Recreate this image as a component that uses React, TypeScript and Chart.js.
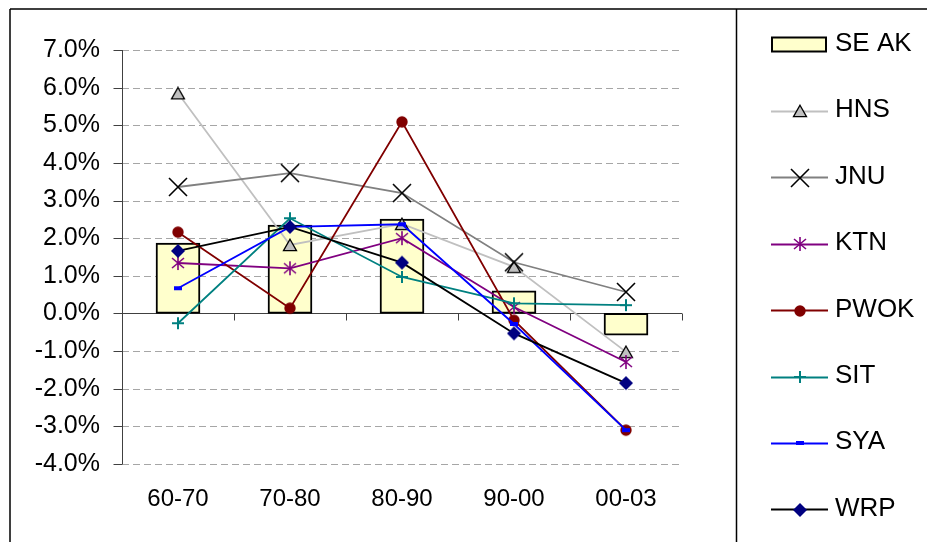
import { useEffect, useRef } from 'react';
import { Chart, registerables } from 'chart.js';

Chart.register(...registerables);

const categories = ['60-70', '70-80', '80-90', '90-00', '00-03'];
const seAk = [1.87, 2.35, 2.51, 0.6, -0.58];
const hns = [5.85, 1.82, 2.38, 1.24, -1.02];
const jnu = [3.36, 3.73, 3.2, 1.36, 0.57];
const ktn = [1.34, 1.2, 2.0, 0.17, -1.29];
const pwok = [2.16, 0.14, 5.09, -0.18, -3.1];
const sit = [-0.26, 2.53, 0.97, 0.27, 0.22];
const sya = [0.67, 2.3, 2.37, -0.28, -3.1];
const wrp = [1.66, 2.3, 1.35, -0.53, -1.85];
const yMin = -4;
const yMax = 7;
const yStep = 1;

const FONT = "'Liberation Sans', Arial, sans-serif";

function makeCanvas(w: number, h: number, draw: (g: CanvasRenderingContext2D) => void) {
  const c = document.createElement('canvas');
  c.width = w;
  c.height = h;
  const g = c.getContext('2d')!;
  draw(g);
  return c;
}

function buildMarkers() {
  const triangle = makeCanvas(16, 14, (g) => {
    g.beginPath();
    g.moveTo(8, 1.2);
    g.lineTo(14.5, 12.6);
    g.lineTo(1.5, 12.6);
    g.closePath();
    g.fillStyle = '#C0C0C0';
    g.fill();
    g.strokeStyle = '#000';
    g.lineWidth = 1.3;
    g.stroke();
  });
  const xMark = makeCanvas(22, 22, (g) => {
    g.strokeStyle = '#000';
    g.lineWidth = 1.6;
    g.beginPath();
    g.moveTo(2, 2);
    g.lineTo(20, 20);
    g.moveTo(20, 2);
    g.lineTo(2, 20);
    g.stroke();
  });
  const star = makeCanvas(16, 16, (g) => {
    g.strokeStyle = '#800080';
    g.lineWidth = 1.6;
    g.beginPath();
    g.moveTo(2, 3);
    g.lineTo(14, 13);
    g.moveTo(14, 3);
    g.lineTo(2, 13);
    g.moveTo(8, 1);
    g.lineTo(8, 15);
    g.stroke();
  });
  const circle = makeCanvas(14, 14, (g) => {
    g.beginPath();
    g.arc(7, 7, 5.7, 0, Math.PI * 2);
    g.fillStyle = '#800000';
    g.fill();
  });
  const plus = makeCanvas(16, 16, (g) => {
    g.strokeStyle = '#008080';
    g.lineWidth = 2;
    g.beginPath();
    g.moveTo(2, 8);
    g.lineTo(14, 8);
    g.moveTo(8, 2);
    g.lineTo(8, 14);
    g.stroke();
  });
  const dash = makeCanvas(10, 6, (g) => {
    g.fillStyle = '#0000FF';
    g.fillRect(1, 1, 8, 4);
  });
  const diamond = makeCanvas(16, 16, (g) => {
    g.beginPath();
    g.moveTo(8, 1);
    g.lineTo(15, 8);
    g.lineTo(8, 15);
    g.lineTo(1, 8);
    g.closePath();
    g.fillStyle = '#000080';
    g.fill();
  });
  return { triangle, xMark, star, circle, plus, dash, diamond };
}

export default function App() {
  const ref = useRef<HTMLCanvasElement | null>(null);

  useEffect(() => {
    if (!ref.current) return;
    const m = buildMarkers();

    const lineDs = (label: string, data: number[], color: string, marker: HTMLCanvasElement, order: number) => ({
      type: 'line' as const,
      label,
      data,
      borderColor: color,
      backgroundColor: color,
      borderWidth: 1.8,
      pointStyle: marker,
      pointRadius: 5,
      pointHoverRadius: 5,
      tension: 0,
      fill: false,
      order,
      legendMarker: marker,
    });

    const legendPlugin = {
      id: 'frameAndLegend',
      beforeDatasetsDraw(chart: any) {
        const { ctx, chartArea: a, scales } = chart;
        const y = scales.y;
        ctx.save();
        // dashed gridlines
        ctx.strokeStyle = '#a6a6a6';
        ctx.lineWidth = 1;
        ctx.setLineDash([7, 4]);
        y.ticks.forEach((t: any) => {
          if (t.value === 0) return;
          const py = Math.round(y.getPixelForValue(t.value)) + 0.5;
          ctx.beginPath();
          ctx.moveTo(a.left, py);
          ctx.lineTo(a.right, py);
          ctx.stroke();
        });
        ctx.setLineDash([]);
        // y axis
        ctx.strokeStyle = '#404040';
        const ax = Math.round(a.left) + 0.5;
        ctx.beginPath();
        ctx.moveTo(ax, a.top);
        ctx.lineTo(ax, a.bottom);
        ctx.stroke();
        y.ticks.forEach((t: any) => {
          const py = Math.round(y.getPixelForValue(t.value)) + 0.5;
          ctx.beginPath();
          ctx.moveTo(ax - 9, py);
          ctx.lineTo(ax, py);
          ctx.stroke();
        });
        // x axis at zero
        const zy = Math.round(y.getPixelForValue(0)) + 0.5;
        ctx.beginPath();
        ctx.moveTo(a.left, zy);
        ctx.lineTo(a.right, zy);
        ctx.stroke();
        const n = categories.length;
        const cw = (a.right - a.left) / n;
        for (let i = 0; i <= n; i++) {
          const px = Math.round(a.left + i * cw) + 0.5;
          ctx.beginPath();
          ctx.moveTo(px, zy);
          ctx.lineTo(px, zy + 7);
          ctx.stroke();
        }
        ctx.restore();
      },
      afterDraw(chart: any) {
        const { ctx } = chart;
        ctx.save();
        // frame
        ctx.strokeStyle = '#000';
        ctx.lineWidth = 1.5;
        ctx.beginPath();
        ctx.moveTo(10, 9);
        ctx.lineTo(927, 9);
        ctx.moveTo(10, 9);
        ctx.lineTo(10, 542);
        ctx.moveTo(736.5, 9);
        ctx.lineTo(736.5, 542);
        ctx.stroke();
        // legend
        const ds = chart.data.datasets;
        const y0 = 44.5;
        const step = 66.4;
        ctx.font = `26px ${FONT}`;
        ctx.textBaseline = 'alphabetic';
        ctx.textAlign = 'left';
        ds.forEach((d: any, i: number) => {
          const cy = y0 + i * step;
          if (d.type === 'line') {
            ctx.strokeStyle = d.borderColor;
            ctx.lineWidth = 2;
            ctx.beginPath();
            ctx.moveTo(771, Math.round(cy) + 0.5);
            ctx.lineTo(828, Math.round(cy) + 0.5);
            ctx.stroke();
            const mk = d.legendMarker as HTMLCanvasElement;
            ctx.drawImage(mk, Math.round(799.5 - mk.width / 2), Math.round(cy + 0.5 - mk.height / 2));
          } else {
            ctx.fillStyle = d.backgroundColor;
            ctx.fillRect(772, cy - 7, 54, 14);
            ctx.strokeStyle = '#000';
            ctx.lineWidth = 2;
            ctx.strokeRect(772, cy - 7, 54, 14);
          }
          ctx.fillStyle = '#000';
          ctx.fillText(d.label, 835, cy + 6.5);
        });
        ctx.restore();
      },
    };

    const chart = new Chart(ref.current, {
      type: 'bar',
      data: {
        labels: categories,
        datasets: [
          {
            type: 'bar',
            label: 'SE AK',
            data: seAk,
            backgroundColor: '#FFFFCC',
            borderColor: '#000',
            borderWidth: 2,
            borderSkipped: false,
            barThickness: 44,
            order: 10,
          } as any,
          lineDs('HNS', hns, '#C0C0C0', m.triangle, 8),
          lineDs('JNU', jnu, '#808080', m.xMark, 7),
          lineDs('KTN', ktn, '#800080', m.star, 6),
          lineDs('PWOK', pwok, '#800000', m.circle, 5),
          lineDs('SIT', sit, '#008080', m.plus, 4),
          lineDs('SYA', sya, '#0000FF', m.dash, 3),
          lineDs('WRP', wrp, '#000000', m.diamond, 2),
        ],
      },
      options: {
        responsive: false,
        animation: false,
        devicePixelRatio: 1,
        events: [],
        layout: { padding: { left: 0, right: 245, top: 50, bottom: 0 } },
        plugins: {
          legend: { display: false },
          tooltip: { enabled: false },
        },
        scales: {
          x: {
            grid: { display: false, drawTicks: false },
            border: { display: false },
            ticks: {
              font: { family: FONT, size: 24 },
              color: '#000',
              padding: 21,
              maxRotation: 0,
              autoSkip: false,
            },
            afterFit: (s: any) => {
              s.height = 78;
            },
          },
          y: {
            min: yMin,
            max: yMax,
            grid: { display: false, drawTicks: false },
            border: { display: false },
            ticks: {
              stepSize: yStep,
              font: { family: FONT, size: 25 },
              color: '#000',
              padding: 22,
              callback: (v: any) => Number(v).toFixed(1) + '%',
            },
            afterFit: (s: any) => {
              s.width = 122;
            },
          },
        },
      } as any,
      plugins: [legendPlugin],
    });
    return () => chart.destroy();
  }, []);

  return (
    <div style={{ position: 'absolute', left: 0, top: 0, width: 927, height: 542, background: '#fff' }}>
      <canvas ref={ref} width={927} height={542} style={{ display: 'block', width: 927, height: 542 }} />
    </div>
  );
}
